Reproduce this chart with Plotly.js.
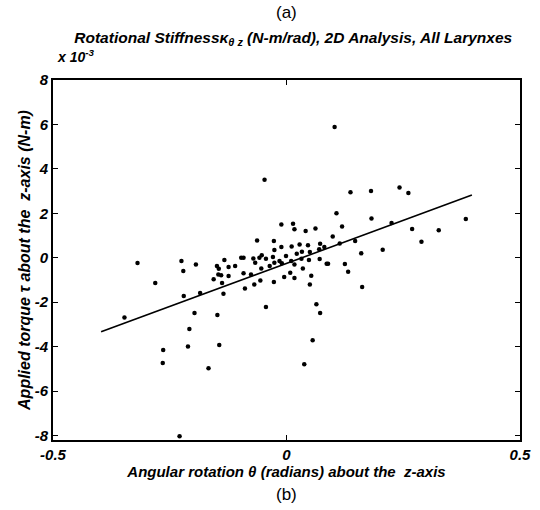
<!DOCTYPE html>
<html>
<head>
<meta charset="utf-8">
<script src="https://cdn.plot.ly/plotly-3.0.1.min.js"></script>
<style>html,body{margin:0;padding:0;background:#fff;}#chart{width:540px;height:510px;}</style>
</head>
<body>
<div id="chart"></div>
<script>
// Angular rotation theta (radians)
const rotX = [-0.347,-0.319,-0.281,-0.265,-0.264,-0.229,-0.225,-0.221,-0.220,-0.211,
  -0.208,-0.197,-0.194,-0.185,-0.167,-0.156,-0.149,-0.148,-0.146,-0.145,
  -0.144,-0.140,-0.138,-0.135,-0.133,-0.124,-0.124,-0.110,-0.097,-0.092,
  -0.092,-0.089,-0.076,-0.071,-0.069,-0.067,-0.063,-0.058,-0.053,-0.056,
  -0.054,-0.047,-0.044,-0.044,-0.036,-0.029,-0.027,-0.027,-0.026,-0.026,
  -0.015,-0.011,-0.011,-0.010,-0.005,-0.001,0.008,0.010,0.011,0.014,
  0.017,0.017,0.017,0.022,0.028,0.032,0.033,0.035,0.038,0.041,
  0.046,0.048,0.050,0.050,0.053,0.056,0.062,0.064,0.070,0.071,
  0.072,0.072,0.081,0.086,0.089,0.099,0.103,0.107,0.114,0.119,
  0.125,0.132,0.137,0.147,0.160,0.162,0.181,0.182,0.206,0.225,
  0.242,0.261,0.269,0.289,0.326,0.384];
// Applied torque tau (x 10^-3 N-m)
const torqueY = [-2.69,-0.24,-1.13,-4.73,-4.15,-8.03,-0.15,-0.60,-1.72,-3.99,
  -3.20,-2.49,-0.30,-1.59,-4.97,-0.97,-0.37,-2.58,-0.75,-0.49,
  -3.92,-0.79,-1.14,-1.62,-0.10,-0.42,-0.82,-0.37,0.00,0.00,
  -0.70,-1.38,-0.75,-0.03,-1.20,-0.22,0.78,0.00,0.11,-1.02,
  -0.48,3.51,-0.04,-2.22,-0.37,0.03,0.75,-1.09,0.35,-0.22,
  -0.15,1.50,0.48,-0.25,-0.87,0.08,-0.67,-0.15,0.51,1.53,
  1.28,-0.30,-0.91,0.18,0.60,-0.04,0.27,-0.48,-4.79,1.20,
  0.56,-0.10,0.26,-1.20,-0.81,-3.71,1.32,-2.09,0.38,-0.06,
  -2.49,0.63,0.48,-0.27,-0.27,0.96,5.89,2.00,0.64,1.41,
  -0.28,-0.63,2.95,0.75,0.20,-1.32,3.00,1.77,0.36,1.57,
  3.16,2.92,1.29,0.72,1.24,1.74];
// Fitted stiffness line
const fitX = [-0.397, 0.397];
const fitY = [-3.33, 2.82];
const yTicks = [-8,-6,-4,-2,0,2,4,6,8];
const xTicks = [-0.5,0,0.5];

const fnt = {family:'"Liberation Sans", Arial, sans-serif', color:'#000'};
const bi = (s)=>'<b><i>'+s+'</i></b>';

const traces = [
  {x: rotX, y: torqueY, type:'scatter', mode:'markers',
   marker:{color:'#000', size:4.5}, hoverinfo:'x+y'},
  {x: fitX, y: fitY, type:'scatter', mode:'lines',
   line:{color:'#000', width:1.6}}
];

const layout = {
  width:540, height:510,
  margin:{l:53, r:20, t:80, b:70},
  paper_bgcolor:'#fff', plot_bgcolor:'#fff',
  showlegend:false,
  title:{text: bi('Rotational Stiffness\u03BA<sub>\u03B8 z</sub> (N-m/rad), 2D Analysis, All Larynxes'),
    font:Object.assign({size:15.5}, fnt), x:0.543, xanchor:'center', y:0.927, yanchor:'middle'},
  xaxis:{range:[-0.5,0.5], tickvals:xTicks, ticktext:xTicks.map(v=>bi(String(v))),
    ticks:'inside', ticklen:5, tickcolor:'#000', mirror:'ticks', showline:true,
    linecolor:'#000', linewidth:2, showgrid:false, zeroline:false,
    tickfont:Object.assign({size:15}, fnt),
    title:{text: bi('Angular rotation \u03B8 (radians) about the  z-axis'), font:Object.assign({size:15}, fnt), standoff:2}},
  yaxis:{range:[-8.2,8.0], tickvals:yTicks, ticktext:yTicks.map(v=>bi(String(v))),
    ticks:'inside', ticklen:5, tickcolor:'#000', mirror:'ticks', showline:true,
    linecolor:'#000', linewidth:2, showgrid:false, zeroline:false,
    tickfont:Object.assign({size:15}, fnt), ticklabelstandoff:0,
    title:{text: bi('Applied torque \u03C4 about the  z-axis (N-m)'), font:Object.assign({size:16}, fnt), standoff:0}},
  annotations:[
    {text:'(a)', xref:'paper', yref:'paper', x:0.5, y:1, yshift:68, showarrow:false,
     font:Object.assign({size:17}, fnt), xanchor:'center', yanchor:'middle'},
    {text:'(b)', xref:'paper', yref:'paper', x:0.5, y:0, yshift:-54, showarrow:false,
     font:Object.assign({size:17}, fnt), xanchor:'center', yanchor:'middle'},
    {text: bi('x 10<sup>-3</sup>'), xref:'paper', yref:'paper', x:0, y:1, yshift:24, xshift:2, showarrow:false,
     font:Object.assign({size:14}, fnt), xanchor:'left', yanchor:'middle'}
  ]
};

Plotly.newPlot('chart', traces, layout, {displayModeBar:false, staticPlot:true});
</script>
</body>
</html>
